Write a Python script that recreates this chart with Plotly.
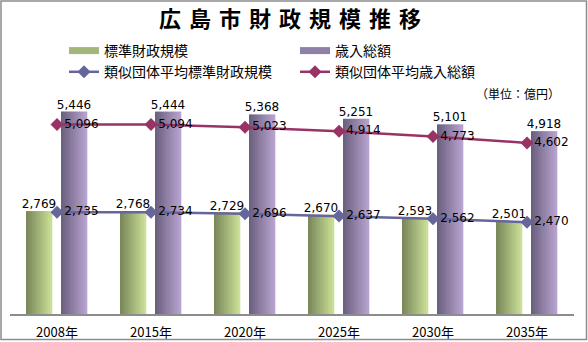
import plotly.graph_objects as go

# ---- data ----
years = ["2008年", "2015年", "2020年", "2025年", "2030年", "2035年"]
standard_scale = [2769, 2768, 2729, 2670, 2593, 2501]        # 標準財政規模
total_revenue = [5446, 5444, 5368, 5251, 5101, 4918]         # 歳入総額
similar_standard = [2735, 2734, 2696, 2637, 2562, 2470]      # 類似団体平均標準財政規模
similar_revenue = [5096, 5094, 5023, 4914, 4773, 4602]       # 類似団体平均歳入総額

names = ["標準財政規模", "歳入総額", "類似団体平均標準財政規模", "類似団体平均歳入総額"]
title = "広島市財政規模推移"
unit = "（単位：億円）"

# ---- style ----
W, H = 588, 342
ML, MR, MT, MB = 10, 14, 100, 28
PW, PH = W - ML - MR, H - MT - MB
YMAX = PH / 0.03718

idx = list(range(len(years)))
BAR_W = 26 / 94
G_CENTER = -18 / 94
P_CENTER = 17 / 94
NSL = 13

def lerp(c1, c2, t):
    return "rgb(%d,%d,%d)" % tuple(round(a + (b - a) * t) for a, b in zip(c1, c2))

green_l, green_r = (122, 136, 90), (202, 222, 152)
purp_l, purp_r = (108, 96, 128), (182, 162, 206)
line1_c = "#66669a"
line2_c = "#993366"
num_font = dict(family="DejaVu Sans", size=12, color="black")
cjk = "Noto Sans CJK JP"

fig = go.Figure()

def add_gradient_bars(values, center, cl, cr):
    sw = BAR_W / NSL
    for i in range(NSL):
        t = i / (NSL - 1)
        fig.add_trace(go.Bar(
            x=idx, y=values, width=sw * 1.15, offset=center - BAR_W / 2 + i * sw,
            marker=dict(color=lerp(cl, cr, t), line=dict(width=0)),
            showlegend=False, hoverinfo="skip"))

add_gradient_bars(standard_scale, G_CENTER, green_l, green_r)
add_gradient_bars(total_revenue, P_CENTER, purp_l, purp_r)

# bar value labels
for vals, c in [(standard_scale, G_CENTER), (total_revenue, P_CENTER)]:
    fig.add_trace(go.Scatter(
        x=[i + c for i in idx], y=vals, mode="text",
        text=[f"{v:,}" for v in vals], textposition="top center",
        textfont=num_font, showlegend=False, hoverinfo="skip"))

# legend swatches for bars
fig.add_trace(go.Scatter(x=[None], y=[None], mode="lines", name=names[0],
                         line=dict(color="#a4b67a", width=7)))
fig.add_trace(go.Scatter(x=[None], y=[None], mode="lines", name=names[1],
                         line=dict(color="#8e80a6", width=7)))

# lines
for vals, nm, col in [(similar_standard, names[2], line1_c), (similar_revenue, names[3], line2_c)]:
    fig.add_trace(go.Scatter(
        x=idx, y=vals, mode="lines+markers+text", name=nm,
        line=dict(color=col, width=2.5),
        marker=dict(symbol="diamond", size=10, color=col),
        text=[f"{v:,}" for v in vals], textposition="middle right",
        textfont=num_font))

def px_x(px):
    return (px - ML) / PW

def px_y(py):
    return (H - MB - py) / PH

fig.update_layout(
    width=W, height=H,
    margin=dict(l=ML, r=MR, t=MT, b=MB, autoexpand=False),
    paper_bgcolor="white", plot_bgcolor="white",
    barmode="overlay",
    font=dict(family=cjk, color="black"),
    title=dict(
        text=f'<b><span style="letter-spacing:8px">{title}</span></b>',
        x=0.5, xref="container", xanchor="center",
        y=1 - 19 / H, yref="container", yanchor="middle",
        font=dict(family=cjk, size=22, color="black"), automargin=False),
    xaxis=dict(range=[-0.5, len(years) - 0.5], tickmode="array", tickvals=idx,
               ticktext=years, showgrid=False, zeroline=False, automargin=False,
               showline=True, linecolor="#8c8c8c", linewidth=1.5,
               ticks="", ticklabelstandoff=6,
               tickfont=dict(family=cjk, size=13, color="black")),
    yaxis=dict(range=[0, YMAX], visible=False, showgrid=False, zeroline=False,
               automargin=False),
    legend=dict(orientation="h", x=px_x(64), y=px_y(35), xanchor="left", yanchor="top",
                xref="paper", yref="paper", entrywidth=186, traceorder="normal",
                font=dict(family=cjk, size=14, color="black"),
                bgcolor="rgba(0,0,0,0)", itemwidth=30, tracegroupgap=0),
    annotations=[dict(text=unit, x=px_x(562), y=px_y(93), xref="paper", yref="paper",
                      xanchor="right", yanchor="middle", showarrow=False,
                      font=dict(family=cjk, size=12, color="black"))],
    shapes=[dict(type="rect", xref="paper", yref="paper",
                 x0=px_x(1), x1=px_x(586.5), y0=px_y(339.5), y1=px_y(1),
                 line=dict(color="#8c8c8c", width=1.5), fillcolor="rgba(0,0,0,0)")],
)

fig.write_html("out.html")
